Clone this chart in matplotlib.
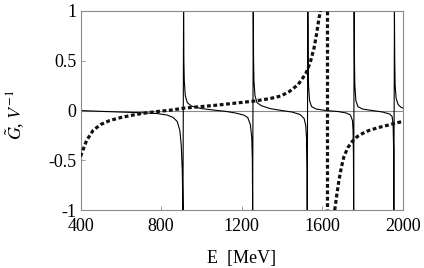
import matplotlib
matplotlib.use("Agg")
import matplotlib.pyplot as plt
import numpy as np

# solid curve (G tilde); consecutive branches joined across the poles
solid_E = [400, 500, 600, 700, 780, 830, 860, 880, 893, 900, 905, 908.5,
           911.5, 913, 915, 920, 930, 950, 1000, 1060, 1120, 1170, 1210, 1230, 1243, 1250, 1253, 1254.5,
           1257.5, 1259, 1261, 1266, 1276, 1296, 1340, 1400, 1450, 1490, 1510, 1518, 1522, 1524.5, 1525.5,
           1528.5, 1530, 1532, 1537, 1547, 1570, 1620, 1680, 1720, 1740, 1750, 1753, 1755, 1756,
           1758.5, 1760, 1762, 1767, 1777, 1800, 1850, 1900, 1935, 1947, 1952, 1954.5, 1955.5,
           1958.5, 1960, 1962, 1967, 1977, 1990, 2000]
solid_G = [0.0, -0.008, -0.015, -0.022, -0.03, -0.045, -0.07, -0.11, -0.2, -0.35, -0.6, -1.0,
           1.0, 0.5, 0.3, 0.15, 0.08, 0.045, 0.02, 0.005, -0.008, -0.025, -0.045, -0.07, -0.14, -0.27, -0.5, -1.0,
           1.0, 0.5, 0.3, 0.15, 0.08, 0.05, 0.02, 0.0, -0.015, -0.04, -0.08, -0.15, -0.28, -0.55, -1.0,
           1.0, 0.5, 0.25, 0.1, 0.04, 0.015, 0.0, -0.01, -0.025, -0.045, -0.1, -0.2, -0.45, -1.0,
           1.0, 0.5, 0.25, 0.1, 0.04, 0.015, 0.0, -0.015, -0.035, -0.06, -0.15, -0.4, -1.0,
           1.0, 0.5, 0.25, 0.12, 0.06, 0.035, 0.025]

# dashed curve: branch below the pole, the pole itself, branch above the pole
dash_up_E = [400, 430, 462, 500, 545, 600, 660, 720, 780, 850, 916, 1000, 1081, 1170, 1262, 1340,
             1394, 1436, 1480, 1518, 1540, 1559, 1572, 1584, 1592]
dash_up_G = [-0.46, -0.30, -0.20, -0.14, -0.10, -0.07, -0.045, -0.025, -0.01, 0.005, 0.025, 0.04,
             0.055, 0.075, 0.095, 0.12, 0.146, 0.19, 0.26, 0.37, 0.48, 0.625, 0.77, 0.93, 1.0]
dash_pole_E = 1623
dash_lo_E = [1662, 1672, 1683, 1695, 1708, 1728, 1749, 1775, 1800, 1832, 1880, 1930, 1965, 2000]
dash_lo_G = [-1.0, -0.85, -0.70, -0.57, -0.46, -0.37, -0.31, -0.26, -0.23, -0.20, -0.17, -0.145, -0.125, -0.11]

x_ticks = [400, 800, 1200, 1600, 2000]
y_ticks = [-1, -0.5, 0, 0.5, 1]
y_tick_labels = ["-1", "-0.5", "0", "0.5", "1"]

plt.rcParams["font.family"] = ["Liberation Serif", "DejaVu Serif"]
plt.rcParams["mathtext.fontset"] = "stix"
plt.rcParams["axes.unicode_minus"] = False

fig = plt.figure(figsize=(4.24, 2.68), dpi=100)
ax = fig.add_axes([0.190, 0.216, 0.760, 0.743])

gray = "#8a8a8a"
ax.axhline(0, color=gray, lw=0.8, zorder=1)

ax.plot(solid_E, solid_G, color="black", lw=0.8, zorder=2)

dash_style = dict(color="#111111", lw=2.3, linestyle=(0, (1.2, 0.8)), zorder=3)
ax.plot(dash_up_E, dash_up_G, **dash_style)
ax.plot([dash_pole_E, dash_pole_E], [y_ticks[-1], y_ticks[0]], **dash_style)
ax.plot(dash_lo_E, dash_lo_G, **dash_style)

ax.set_xlim(400, 2000)
ax.set_ylim(-1, 1)
ax.set_xticks(x_ticks)
ax.set_xticklabels([str(t) for t in x_ticks])
ax.set_yticks(y_ticks)
ax.set_yticklabels(y_tick_labels)
ax.tick_params(direction="in", length=3, width=0.6, color=gray, labelsize=13)
ax.tick_params(axis="x", pad=6)
ax.tick_params(axis="y", pad=3)
for sp in ax.spines.values():
    sp.set_color(gray)
    sp.set_linewidth(0.8)

ax.set_xlabel("E  [MeV]", fontsize=13)
ax.xaxis.set_label_coords(0.5, -0.2)
ax.set_ylabel(r"$\tilde{G}$, $V^{\mathrm{-1}}$", fontsize=13)
ax.yaxis.set_label_coords(-0.165, 0.48)

fig.savefig("out.png", dpi=100)
